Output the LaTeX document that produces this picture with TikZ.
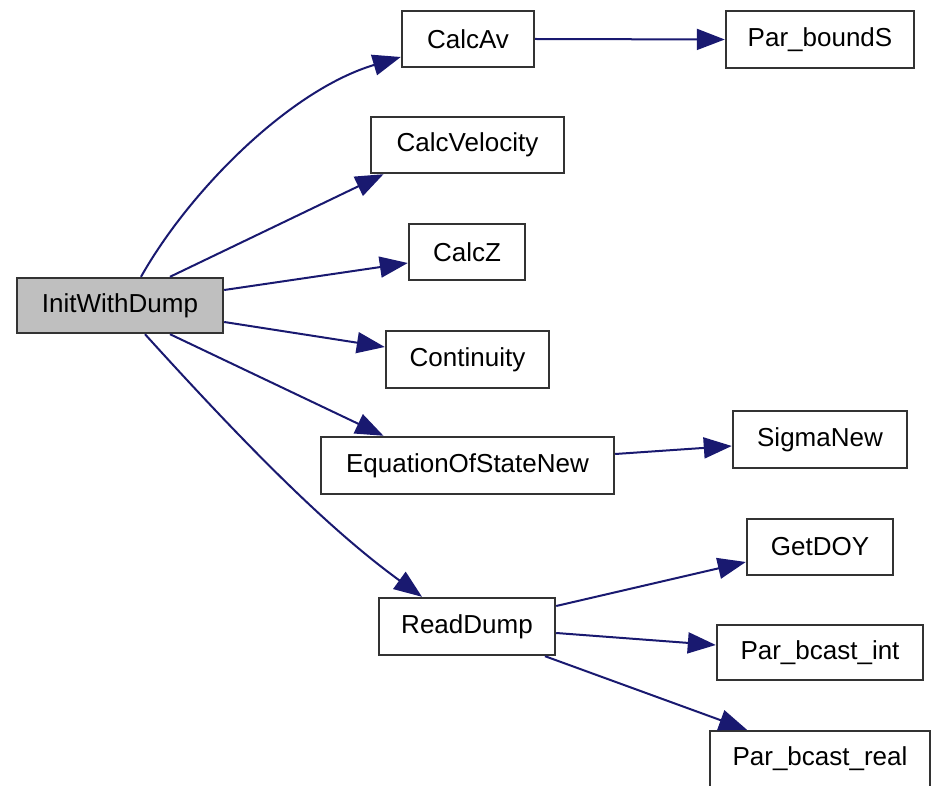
\documentclass[tikz,border=0pt]{standalone}
\usepackage{fontspec}
\setmainfont{Liberation Sans}
\usetikzlibrary{arrows.meta}
\definecolor{edgec}{HTML}{191970}
\definecolor{boxc}{HTML}{333333}
\definecolor{grayfill}{HTML}{BFBFBF}
\begin{document}
\begin{tikzpicture}[x=0.5pt,y=-0.5pt,
  fn/.style={draw=boxc, line width=1.2pt, fill=white, rectangle, inner sep=0pt,
    font=\fontsize{13}{15}\selectfont, text=black},
  call/.style={draw=edgec, line width=1pt, -{Triangle[length=14pt,width=10.5pt]}}]
\useasboundingbox (0,0) rectangle (934,786);
\node[fn, fill=grayfill, minimum width=103pt, minimum height=27.5pt] (init) at (120,305.5) {InitWithDump};
\node[fn, minimum width=66pt, minimum height=28pt] (calcav) at (468,39) {CalcAv};
\node[fn, minimum width=94pt, minimum height=28.5pt] (parb) at (820,39.5) {Par\_boundS};
\node[fn, minimum width=96.5pt, minimum height=28pt] (calcvel) at (467.5,145) {CalcVelocity};
\node[fn, minimum width=58pt, minimum height=28pt] (calcz) at (467,252) {CalcZ};
\node[fn, minimum width=81.5pt, minimum height=28.5pt] (cont) at (467.5,359.5) {Continuity};
\node[fn, minimum width=146.5pt, minimum height=28.5pt] (eos) at (467.5,465.5) {EquationOfStateNew};
\node[fn, minimum width=88pt, minimum height=28.5pt] (rd) at (467,626.5) {ReadDump};
\node[fn, minimum width=87pt, minimum height=28.5pt] (sigma) at (820,439.5) {SigmaNew};
\node[fn, minimum width=73pt, minimum height=28pt] (getdoy) at (820,547) {GetDOY};
\node[fn, minimum width=103pt, minimum height=27.5pt] (pbi) at (820,652.5) {Par\_bcast\_int};
\node[fn, minimum width=110pt, minimum height=28pt] (pbr) at (820,759) {Par\_bcast\_real};

\draw[call] ([xshift=10.5pt]init.north) .. controls (190,190) and (290,90) .. ([yshift=-9pt]calcav.west);
\draw[call] ([xshift=25pt]init.north) -- ([xshift=-42pt]calcvel.south);
\draw[call] ([yshift=7.75pt]init.east) -- ([yshift=-5.5pt]calcz.west);
\draw[call] ([yshift=-8.25pt]init.east) -- ([yshift=6.25pt]cont.west);
\draw[call] ([xshift=25pt]init.south) -- ([xshift=-42pt]eos.north);
\draw[call] ([xshift=12.5pt]init.south) .. controls (250,450) and (330,530) .. ([xshift=-22.5pt]rd.north);
\draw[call] (calcav.east) -- (parb.west);
\draw[call] ([yshift=5.75pt]eos.east) -- ([yshift=-3.25pt]sigma.west);
\draw[call] ([yshift=10.25pt]rd.east) -- ([yshift=-7.5pt]getdoy.west);
\draw[call] ([yshift=-3.25pt]rd.east) -- ([yshift=3.75pt]pbi.west);
\draw[call] ([xshift=39pt]rd.south) -- ([xshift=-36.5pt]pbr.north);
\end{tikzpicture}
\end{document}
